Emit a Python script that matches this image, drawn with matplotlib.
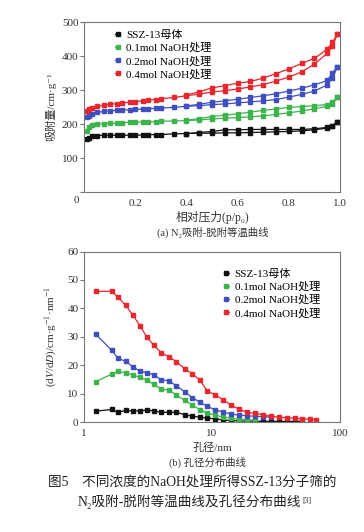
import matplotlib.pyplot as plt

plt.rcParams['font.family'] = ['Liberation Serif', 'Noto Sans CJK SC', 'DejaVu Sans']
plt.rcParams['mathtext.fontset'] = 'stix'

# (a) 等温线数据
p_ads = [0.01, 0.02, 0.03, 0.05, 0.08, 0.1, 0.13, 0.15, 0.18, 0.2, 0.23, 0.25, 0.28, 0.3,
         0.35, 0.4, 0.45, 0.5, 0.55, 0.6, 0.65, 0.7, 0.75, 0.8, 0.85, 0.9, 0.95, 0.97, 0.99]
p_des = [0.99, 0.97, 0.95, 0.9, 0.85, 0.8, 0.75, 0.7, 0.65, 0.6, 0.55, 0.5, 0.45, 0.4]

v0_ads = [155, 160, 164, 166, 167, 167, 167, 167, 167, 167, 168, 168, 169, 169, 171, 172, 173,
          173, 174, 174, 175, 176, 177, 178, 180, 183, 188, 195, 205]
v0_des = [205, 195, 190, 186, 184, 184, 184, 184, 184, 183, 183, 178, 175, 172]
v1_ads = [178, 190, 196, 199, 201, 202, 203, 204, 205, 206, 206, 207, 207, 208, 209, 210, 212,
          215, 217, 219, 221, 224, 228, 233, 238, 245, 252, 260, 278]
v1_des = [278, 265, 257, 254, 251, 249, 244, 240, 235, 230, 226, 222, 216, 211]
v2_ads = [220, 224, 229, 234, 237, 239, 240, 241, 242, 243, 244, 245, 246, 247, 249, 252, 254,
          257, 259, 262, 265, 268, 272, 279, 287, 297, 315, 335, 368]
v2_des = [368, 350, 328, 315, 305, 297, 289, 283, 278, 273, 268, 264, 258, 253]
v4_ads = [238, 244, 248, 252, 256, 258, 260, 262, 264, 266, 268, 270, 272, 274, 278, 283, 288,
          294, 298, 303, 309, 316, 326, 338, 353, 376, 408, 428, 465]
v4_des = [465, 440, 420, 393, 378, 362, 348, 335, 325, 320, 313, 306, 295, 285]

# (b) 孔径分布数据
d = [1.23, 1.64, 1.84, 2.12, 2.4, 2.75, 3.1, 3.52, 4.03, 4.6, 5.28, 6.1, 7.0, 8.05, 9.15,
     10.6, 12.2, 14.1, 16.3, 18.8, 21.6, 24.9, 28.8, 33.5, 38.8, 44.5, 50.8, 58, 65]
psd0 = [3.8, 4.4, 3.4, 4.1, 3.9, 3.9, 4.2, 3.9, 3.4, 3.4, 3.4, 2.6, 2.0, 1.7, 1.4, 1.1, 0.7,
        0.5, 0.4, 0.3, 0.3, 0.2, 0.2, 0.2, 0.2, 0.2, 0.2]
psd1 = [14.2, 16.8, 17.8, 17.3, 16.6, 15.7, 14.7, 13.2, 11.5, 11.3, 9.4, 7.7, 6.0, 4.3, 3.2,
        2.4, 1.8, 1.3, 1.0, 0.8, 0.6]
psd2 = [31, 25.3, 22.5, 21.3, 19.5, 17.8, 17.4, 16.6, 14.8, 14.5, 12.7, 10.7, 8.6, 7.0, 5.5,
        4.3, 3.5, 2.8, 2.4, 2.2, 2.0, 1.9, 1.7]
psd4 = [46, 46, 44, 41, 37.7, 33.8, 29.8, 27, 24.3, 23, 21.2, 18.8, 17, 14.7, 11, 9.5, 7.9,
        5.9, 4.5, 3.4, 3.0, 2.6, 2.0, 1.7, 1.5, 1.3, 1.2, 1.0, 0.8]

labels = ['SSZ-13母体', '0.1mol NaOH处理', '0.2mol NaOH处理', '0.4mol NaOH处理']
colors = ['#111111', '#3cb44b', '#3f4fbf', '#e8262d']

fig = plt.figure(figsize=(3.64, 5.32), dpi=100)
ax1 = fig.add_axes([84 / 364, 1 - 192 / 532, 256 / 364, 170 / 532])
ax2 = fig.add_axes([84 / 364, 1 - 422 / 532, 256 / 364, 170.5 / 532])

mk = dict(marker='s', markersize=3, lw=0.9)

for ads, des, c, lab in zip([v0_ads, v1_ads, v2_ads, v4_ads], [v0_des, v1_des, v2_des, v4_des],
                            colors, labels):
    ax1.plot(p_ads, ads, color=c, label=lab, **mk)
    ax1.plot(p_des, des, color=c, **mk)

for y, c, lab in zip([psd0, psd1, psd2, psd4], colors, labels):
    ax2.plot(d[:len(y)], y, color=c, label=lab, **mk)

ax1.set_xlim(0, 1.0)
ax1.set_ylim(0, 500)
ax1.set_xticks([0, 0.2, 0.4, 0.6, 0.8, 1.0])
ax1.set_xticklabels(['', '0.2', '0.4', '0.6', '0.8', '1.0'])
ax1.set_yticks([0, 100, 200, 300, 400, 500])
ax1.set_yticklabels(['', '100', '200', '300', '400', '500'])
ax1.text(-0.02, -0.05, '0', transform=ax1.transAxes, ha='right', va='center',
         fontsize=8, color='#333333')
ax1.set_xlabel('相对压力(p/p₀)', fontsize=8.5, labelpad=2, color='#333333')
ax1.set_ylabel('吸附量/cm·g⁻¹', fontsize=8, labelpad=4, color='#333333')

ax2.set_xscale('log')
ax2.set_xlim(1, 100)
ax2.set_ylim(0, 60)
ax2.set_xticks([1, 10, 100])
ax2.set_xticklabels(['1', '10', '100'])
ax2.minorticks_off()
ax2.set_yticks([0, 10, 20, 30, 40, 50, 60])
ax2.set_xlabel('孔径/nm', fontsize=8, labelpad=3, color='#333333')
ax2.set_ylabel(r'(d$V$/d$D$)/cm·g$^{-1}$·nm$^{-1}$', fontsize=8, labelpad=6, color='#333333')

for ax in (ax1, ax2):
    for s in ax.spines.values():
        s.set_color('#777777')
        s.set_linewidth(0.8)
    ax.tick_params(axis='y', direction='out', length=3, width=0.8, color='#777777',
                   labelsize=8, labelcolor='#333333', pad=1)
    ax.tick_params(axis='x', length=0, labelsize=8, labelcolor='#333333', pad=5)

ax1.legend(loc='upper left', bbox_to_anchor=(0.09, 1.0), frameon=False, fontsize=8,
           handlelength=0.5, handletextpad=0.5, labelspacing=0.25, borderaxespad=0.3)
ax2.legend(loc='upper left', bbox_to_anchor=(0.515, 0.945), frameon=False, fontsize=8,
           handlelength=0.5, handletextpad=0.5, labelspacing=0.25, borderaxespad=0.3)

fig.text(213 / 364, 1 - 232 / 532, '(a) N₂吸附-脱附等温曲线', ha='center', va='center',
         fontsize=7.5, color='#333333')
fig.text(207 / 364, 1 - 462 / 532, '(b) 孔径分布曲线', ha='center', va='center',
         fontsize=7.5, color='#333333')
fig.text(48 / 364, 1 - 482 / 532, '图5　不同浓度的NaOH处理所得SSZ-13分子筛的', ha='left',
         va='center', fontsize=9.8, color='#222222')
cap2 = fig.text(78 / 364, 1 - 502 / 532, 'N₂吸附-脱附等温曲线及孔径分布曲线', ha='left',
                va='center', fontsize=9.8, color='#222222')
ax2.annotate('[3]', xy=(1, 1), xycoords=cap2, xytext=(1, -2), textcoords='offset points',
             ha='left', va='top', fontsize=5.5, color='#222222', annotation_clip=False)

fig.savefig('out.png', dpi=100)
